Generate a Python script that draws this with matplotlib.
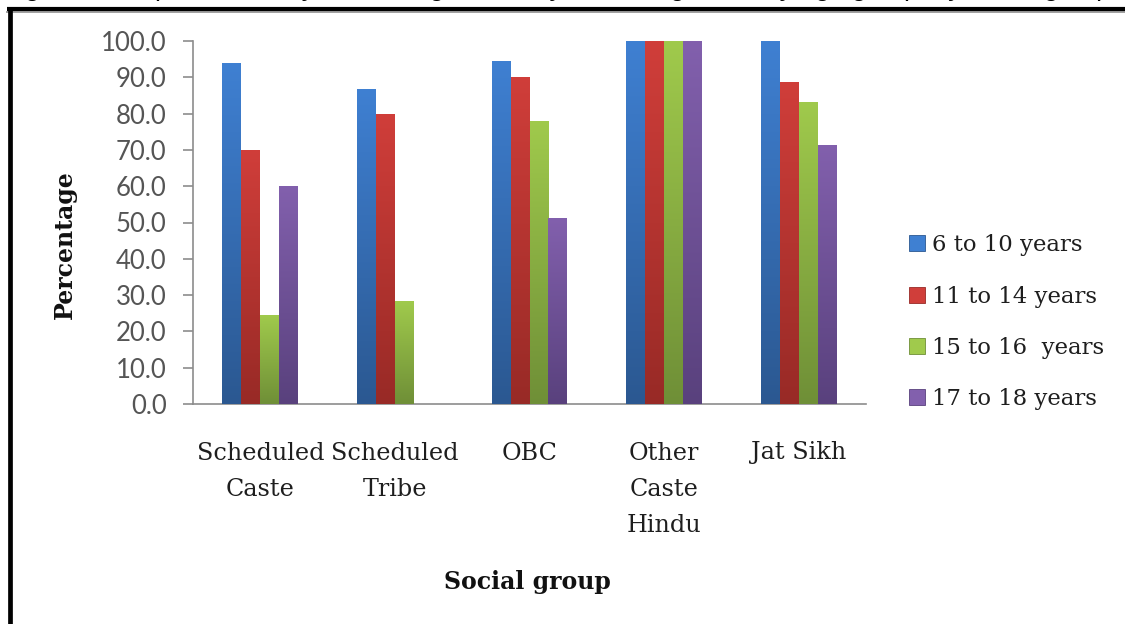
import matplotlib
matplotlib.use("Agg")
import matplotlib.pyplot as plt
import numpy as np
from matplotlib.colors import LinearSegmentedColormap
from matplotlib.lines import Line2D

# ---- data -------------------------------------------------------------
groups = ["Scheduled\nCaste", "Scheduled\nTribe", "OBC", "Other\nCaste\nHindu", "Jat Sikh"]
age_bands = ["6 to 10 years", "11 to 14 years", "15 to 16  years", "17 to 18 years"]
age_6_10 = [93.9, 86.7, 94.5, 100.0, 100.0]
age_11_14 = [70.0, 80.0, 90.2, 100.0, 88.8]
age_15_16 = [24.5, 28.3, 78.0, 100.0, 83.3]
age_17_18 = [60.0, 0.0, 51.2, 100.0, 71.4]
yticks = [0, 10, 20, 30, 40, 50, 60, 70, 80, 90, 100]

series = [age_6_10, age_11_14, age_15_16, age_17_18]
# (top colour, bottom colour) for the vertical shading of each series
shades = [("#3F80D2", "#2B5891"),
          ("#D03E3A", "#982A26"),
          ("#A0CA4C", "#6F8F37"),
          ("#8260AD", "#59417D")]

W, H, DPI = 1125, 624, 100
fig = plt.figure(figsize=(W / DPI, H / DPI), dpi=DPI)
fig.patch.set_facecolor("white")

left, right, top, bottom = 193, 866, 41, 404
ax = fig.add_axes([left / W, 1 - bottom / H, (right - left) / W, (bottom - top) / H])

x = np.arange(len(groups))
bw = 0.141
offsets = (np.arange(4) - 1.5) * bw

for vals, (ctop, cbot), off in zip(series, shades, offsets):
    cmap = LinearSegmentedColormap.from_list("shade", [cbot, ctop])
    bars = ax.bar(x + off, vals, width=bw, color=ctop, edgecolor="none", zorder=2)
    for rect, v in zip(bars, vals):
        if v <= 0:
            continue
        x0 = rect.get_x()
        grad = np.linspace(0, 1, 256).reshape(-1, 1)
        im = ax.imshow(grad, extent=[x0, x0 + rect.get_width(), 0, v], origin="lower",
                       aspect="auto", cmap=cmap, zorder=3, interpolation="bilinear")
        im.set_clip_path(rect)

ax.set_xlim(-0.5, len(groups) - 0.5)
ax.set_ylim(0, 100)
ax.set_yticks(yticks)
ax.set_yticklabels([f"{t:.1f}" for t in yticks], fontfamily="Lato", fontweight="normal",
                   fontsize=18.5, color="#555555")
ax.set_xticks(x)
ax.set_xticklabels(groups, fontfamily="DejaVu Serif", fontsize=17.2, color="#1E1E1E",
                   linespacing=1.75, va="top")

for s in ("top", "right"):
    ax.spines[s].set_visible(False)
for s in ("left", "bottom"):
    ax.spines[s].set_color("#8C8C8C")
    ax.spines[s].set_linewidth(1.2)
ax.tick_params(axis="y", direction="out", length=7, width=1.2, color="#8C8C8C", pad=12)
ax.tick_params(axis="x", length=0, pad=27)

# axis titles
fig.text(65 / W, 1 - 245 / H, "Percentage", rotation=90, ha="center", va="center",
         fontfamily="DejaVu Serif", fontweight="bold", fontsize=17, color="#111111")
fig.text(527 / W, 1 - 582 / H, "Social group", ha="center", va="center",
         fontfamily="DejaVu Serif", fontweight="bold", fontsize=17, color="#111111")

# legend
handles = [Line2D([], [], marker="s", linestyle="", markersize=11,
                  markerfacecolor=c[0], markeredgecolor=c[1], markeredgewidth=0.6)
           for c in shades]
leg = fig.legend(handles, age_bands, loc="upper left",
                 bbox_to_anchor=(898 / W, 1 - 223 / H), bbox_transform=fig.transFigure,
                 frameon=False, borderpad=0, handlelength=0.7, handletextpad=0.3,
                 labelspacing=1.28, prop={"family": "DejaVu Serif", "size": 16.4})
for t in leg.get_texts():
    t.set_color("#1E1E1E")

# page frame around the chart
fig.add_artist(Line2D([7 / W, 1.0], [1 - 11.5 / H, 1 - 11.5 / H], transform=fig.transFigure,
                      color="#A0A0A0", linewidth=1.4))
fig.add_artist(Line2D([7 / W, 1.0], [1 - 8.5 / H, 1 - 8.5 / H], transform=fig.transFigure,
                      color="black", linewidth=3.0, solid_capstyle="butt"))
fig.add_artist(Line2D([10 / W, 10 / W], [0, 1 - 7 / H], transform=fig.transFigure,
                      color="black", linewidth=3.4, solid_capstyle="butt"))

# caption line running above the frame (only its lowest strokes fall on the page)
fig.text(5 / W, 1 + 4 / H,
         "Figure 3: Proportion of boys attending school by sex and gender, by age group, "
         "by social group, rural areas, 2011-12",
         ha="left", va="baseline", fontfamily="Liberation Sans", fontstyle="italic",
         fontsize=19, color="black")

fig.savefig("out.png", dpi=DPI, facecolor="white")
